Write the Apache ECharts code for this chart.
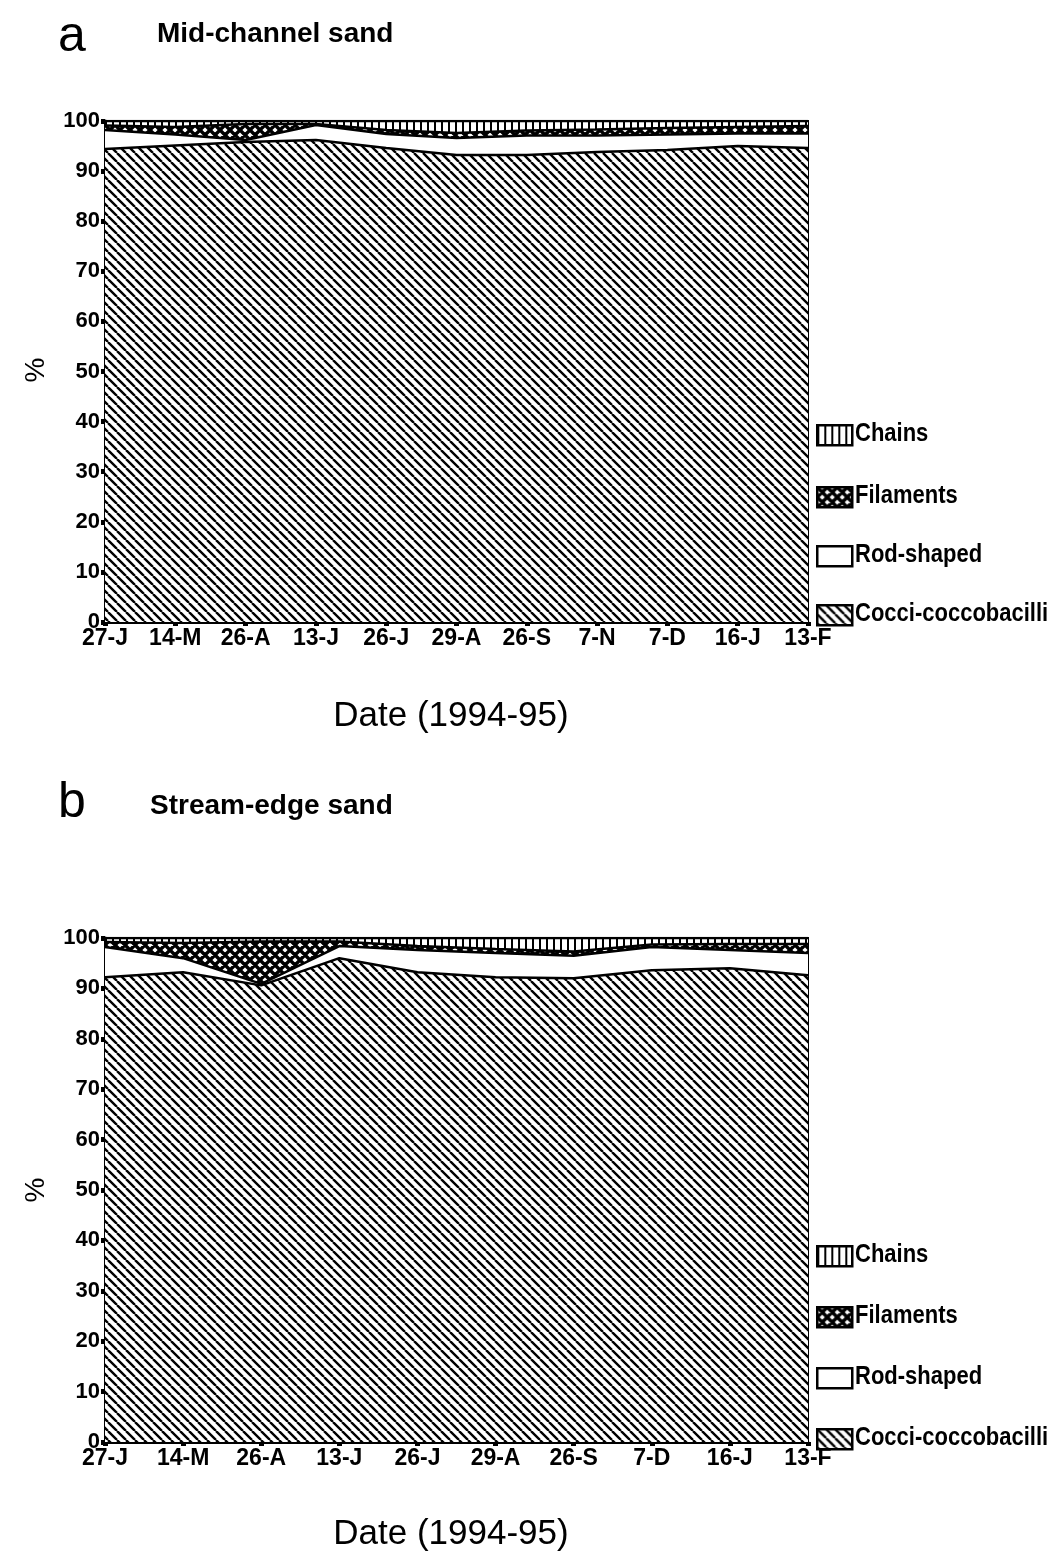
<!DOCTYPE html>
<html>
<head>
<meta charset="utf-8">
<script src="https://cdn.jsdelivr.net/npm/echarts@6/dist/echarts.min.js"></script>
<style>
html,body{margin:0;padding:0;background:#fff;}
#chart{width:1057px;height:1552px;}
</style>
</head>
<body>
<div id="chart"></div>
<script>
// ---- Data (percent of cells) ----
const datesA = ['27-J','14-M','26-A','13-J','26-J','29-A','26-S','7-N','7-D','16-J','13-F'];
const cocciA  = [94.4, 95.1, 95.8, 96.2, 94.6, 93.2, 93.2, 93.8, 94.2, 95.0, 94.6];
const rodA    = [ 3.8,  2.2,  0.4,  3.0,  2.8,  3.4,  3.9,  3.3,  3.1,  2.5,  2.9];
const filA    = [ 0.9,  1.5,  3.2,  0.2,  0.8,  1.0,  1.0,  1.2,  1.3,  1.3,  1.5];
const chainsA = [ 0.9,  1.2,  0.6,  0.6,  1.8,  2.4,  1.9,  1.7,  1.4,  1.2,  1.0];

const datesB = ['27-J','14-M','26-A','13-J','26-J','29-A','26-S','7-D','16-J','13-F'];
const cocciB  = [92.2, 93.2, 90.6, 96.0, 93.2, 92.2, 92.0, 93.6, 94.0, 92.6];
const rodB    = [ 6.0,  2.8,  0.3,  2.4,  4.4,  4.8,  4.5,  4.6,  3.6,  4.4];
const filB    = [ 1.0,  3.0,  8.4,  0.9,  0.8,  0.8,  0.8,  0.5,  1.2,  1.8];
const chainsB = [ 0.8,  1.0,  0.7,  0.7,  1.6,  2.2,  2.7,  1.3,  1.2,  1.2];

const seriesNames = ['Cocci-coccobacilli','Rod-shaped','Filaments','Chains'];
const legendOrder = ['Chains','Filaments','Rod-shaped','Cocci-coccobacilli'];

// ---- Patterns ----
function mk(w,h,draw){const c=document.createElement('canvas');c.width=w;c.height=h;const g=c.getContext('2d');g.fillStyle='#fff';g.fillRect(0,0,w,h);draw(g,w,h);return c;}
const hatchCanvas = mk(9,9,(g,s)=>{g.strokeStyle='#000';g.lineWidth=2.4;g.beginPath();for(const k of [-s,0,s]){g.moveTo(k,0);g.lineTo(k+s,s);}g.stroke();});
const crossCanvas = mk(10,10,(g,s)=>{g.strokeStyle='#000';g.lineWidth=3.4;g.beginPath();for(const k of [-s,0,s]){g.moveTo(k,0);g.lineTo(k+s,s);g.moveTo(k+s,0);g.lineTo(k,s);}g.stroke();});
const chainCanvas = mk(7,7,(g,s)=>{g.fillStyle='#000';g.fillRect(0,0,2,s);});
const pat = c => ({image:c, repeat:'repeat'});
const fills = {
  'Cocci-coccobacilli': pat(hatchCanvas),
  'Rod-shaped': '#ffffff',
  'Filaments': pat(crossCanvas),
  'Chains': pat(chainCanvas)
};

const FONT = '"Liberation Sans", Arial, sans-serif';

const chart = echarts.init(document.getElementById('chart'), null, {renderer:'canvas'});

const grids = [
  {left:105, top:121, width:703, height:501, show:true, borderColor:'#000', borderWidth:2, backgroundColor:'transparent'},
  {left:105, top:938, width:703, height:504, show:true, borderColor:'#000', borderWidth:2, backgroundColor:'transparent'}
];

function xAxis(i, cats){
  return {type:'category', gridIndex:i, data:cats, boundaryGap:false,
    axisLine:{lineStyle:{color:'#000', width:3}},
    axisTick:{length:4, lineStyle:{color:'#000', width:5}},
    axisLabel:{color:'#000', fontSize:23, fontWeight:'bold', fontFamily:FONT, margin:5, interval:0},
    splitLine:{show:false}};
}
function yAxis(i){
  return {type:'value', gridIndex:i, min:0, max:100, interval:10,
    axisLine:{show:true, lineStyle:{color:'#000', width:3}},
    axisTick:{show:true, length:4, lineStyle:{color:'#000', width:5}},
    axisLabel:{color:'#000', fontSize:22, fontWeight:'bold', fontFamily:FONT, margin:5},
    splitLine:{show:false}};
}

function mkSeries(idx, arrs){
  return seriesNames.map((n,k)=>({
    name:n, type:'line', xAxisIndex:idx, yAxisIndex:idx, stack:'s'+idx,
    data:arrs[k], symbol:'none', smooth:false,
    lineStyle:{color:'#000', width:2.5},
    areaStyle:{color:fills[n], opacity:1},
    itemStyle:{color:'#000'},
    z: 2
  }));
}

function legend(centers){
  const els=[];
  legendOrder.forEach((n,i)=>{
    const cy=centers[i];
    els.push({type:'rect', left:816, top:cy-10, shape:{width:35, height:20},
      style:{fill:fills[n], stroke:'#000', lineWidth:2.5}, z:10});
    els.push({type:'text', x:855, y:cy, scaleY:1.2, style:{text:n, font:'bold 22px '+FONT, fill:'#000', verticalAlign:'middle'}, z:10});
  });
  return els;
}

const graphic = [
  {type:'text', left:58, top:12, style:{text:'a', font:'50px '+FONT, fill:'#000'}},
  {type:'text', left:157, top:20, style:{text:'Mid-channel sand', font:'bold 28px '+FONT, fill:'#000'}},
  {type:'text', left:58, top:778, style:{text:'b', font:'50px '+FONT, fill:'#000'}},
  {type:'text', left:150, top:792, style:{text:'Stream-edge sand', font:'bold 28px '+FONT, fill:'#000'}},
  {type:'text', x:36, y:370, rotation:Math.PI/2, style:{text:'%', font:'28px '+FONT, fill:'#000', align:'center', verticalAlign:'middle'}},
  {type:'text', x:36, y:1190, rotation:Math.PI/2, style:{text:'%', font:'28px '+FONT, fill:'#000', align:'center', verticalAlign:'middle'}},
  {type:'text', x:451, y:716, style:{text:'Date (1994-95)', font:'35px '+FONT, fill:'#000', align:'center', verticalAlign:'middle'}},
  {type:'text', x:451, y:1534, style:{text:'Date (1994-95)', font:'35px '+FONT, fill:'#000', align:'center', verticalAlign:'middle'}},
  ...legend([434, 496, 555, 614]),
  ...legend([1255, 1316, 1377, 1438])
];

chart.setOption({
  animation:false,
  backgroundColor:'#fff',
  grid:grids,
  xAxis:[xAxis(0, datesA), xAxis(1, datesB)],
  yAxis:[yAxis(0), yAxis(1)],
  series:[...mkSeries(0,[cocciA,rodA,filA,chainsA]), ...mkSeries(1,[cocciB,rodB,filB,chainsB])],
  graphic:graphic
});
</script>
</body>
</html>
